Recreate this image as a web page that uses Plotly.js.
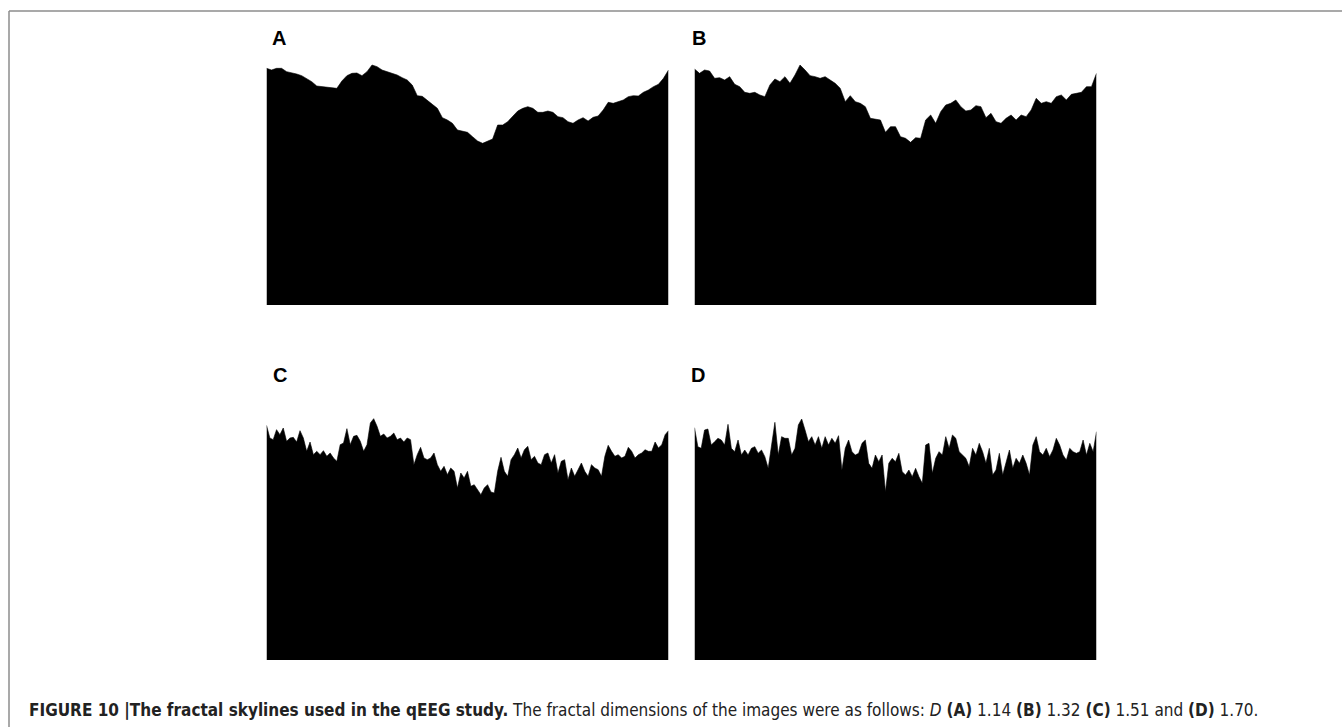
<!DOCTYPE html>
<html>
<head>
<meta charset="utf-8">
<script src="https://cdn.plot.ly/plotly-3.0.1.min.js"></script>
<style>html,body{margin:0;padding:0;background:#fff;}#chart{width:1342px;height:727px;}</style>
</head>
<body>
<div id="chart"></div>
<script>
// Skyline heights (arbitrary units, 0 = bottom of each image)
var panelLabels = ["A", "B", "C", "D"];
var fractalDims = ["1.14", "1.32", "1.51", "1.70"];

var skylineA = [
  710,705,710,710,700,697,693,688,678,670,
  657,655,653,651,650,672,688,695,696,688,
  700,720,715,705,700,695,690,682,675,660,
  628,626,615,602,590,562,555,545,525,522,
  518,505,492,485,492,498,540,540,550,567,
  582,590,595,590,578,578,582,578,565,562,
  550,545,555,562,552,563,567,585,608,605,
  610,615,625,628,627,638,645,655,662,680,
  705
];
var skylineB = [
  708,695,705,702,680,682,675,685,662,655,
  638,635,638,630,625,660,678,670,685,665,
  690,720,705,688,685,680,685,675,665,650,
  610,628,610,605,595,560,558,555,518,535,
  535,505,500,488,502,500,555,570,545,580,
  600,605,615,595,582,585,598,595,562,575,
  550,545,560,570,555,570,565,585,620,605,
  610,605,625,630,615,632,635,638,655,655,
  695
];
var skylineC = [
  704,666,661,691,676,696,656,666,668,654,
  688,666,626,654,616,626,616,628,611,621,
  606,596,646,651,694,646,671,674,656,626,
  646,711,724,701,671,678,666,671,681,661,
  666,654,666,661,586,616,638,606,601,606,
  621,586,566,581,556,576,566,516,561,546,
  566,521,526,511,496,516,526,504,501,566,
  608,566,551,601,616,636,606,631,641,601,
  611,591,586,616,621,591,616,561,596,601,
  541,576,551,571,591,566,551,586,576,571,
  551,611,644,626,611,616,606,611,638,626,
  606,616,621,631,626,626,654,636,646,676,
  688
];
var skylineD = [
  697,640,635,690,693,645,655,665,660,645,
  707,635,625,660,615,630,615,635,640,620,
  630,610,575,645,713,615,670,665,665,615,
  635,705,723,690,655,670,645,670,635,670,
  645,665,650,673,570,635,660,625,615,620,
  650,660,590,575,615,595,615,505,590,605,
  595,620,565,555,570,550,575,550,530,645,
  650,560,605,625,615,670,635,675,665,625,
  615,605,580,635,615,650,625,590,635,555,
  570,620,555,590,630,575,605,590,615,590,
  555,645,670,625,615,635,610,630,665,645,
  615,600,635,625,620,625,660,615,650,625,
  685
];

var W = 1342, H = 727;
function px(x){ return x / W; }
function py(y){ return 1 - y / H; }

var series = [skylineA, skylineB, skylineC, skylineD];
var steps = [5, 5, 10/3, 10/3];
var x0 = 2/3;
var colLeft = [266.5, 694.5];
var rowBottom = [305, 660];
var panelW = 402, panelH = 250;

var traces = [];
var layout = {
  width: W, height: H, autosize: false,
  margin: {l: 0, r: 0, t: 0, b: 0},
  paper_bgcolor: "#ffffff", plot_bgcolor: "rgba(0,0,0,0)",
  showlegend: false,
  annotations: [], shapes: []
};

for (var i = 0; i < 4; i++) {
  var col = i % 2, row = Math.floor(i / 2);
  var ax = i === 0 ? "" : String(i + 1);
  traces.push({
    type: "scatter", mode: "lines",
    x0: x0, dx: steps[i], y: series[i],
    xaxis: "x" + ax, yaxis: "y" + ax,
    fill: "tozeroy", fillcolor: "#000000",
    line: {color: "#000000", width: 0.6},
    hoverinfo: "skip"
  });
  var l = colLeft[col], b = rowBottom[row];
  layout["xaxis" + ax] = {
    domain: [px(l), px(l + panelW)],
    range: [x0, x0 + 400], visible: false, fixedrange: true,
    anchor: "y" + ax
  };
  layout["yaxis" + ax] = {
    domain: [py(b), py(b - panelH)],
    range: [0, 750], visible: false, fixedrange: true,
    anchor: "x" + ax
  };
}

var labelPos = [[270, 38], [690, 38], [271, 375], [689, 375]];
for (var j = 0; j < 4; j++) {
  layout.annotations.push({
    xref: "paper", yref: "paper",
    x: px(labelPos[j][0]), y: py(labelPos[j][1]),
    xanchor: "left", yanchor: "middle", showarrow: false,
    text: "<b>" + panelLabels[j] + "</b>",
    font: {family: "Liberation Sans, Arial, sans-serif", size: 20, color: "#000"}
  });
}

var caption = "<b>FIGURE 10 |The fractal skylines used in the qEEG study.</b> " +
  "The fractal dimensions of the images were as follows: <i>D</i> " +
  "<b>(" + panelLabels[0] + ")</b> " + fractalDims[0] + " " +
  "<b>(" + panelLabels[1] + ")</b> " + fractalDims[1] + " " +
  "<b>(" + panelLabels[2] + ")</b> " + fractalDims[2] + " and " +
  "<b>(" + panelLabels[3] + ")</b> " + fractalDims[3] + ".";
layout.annotations.push({
  xref: "paper", yref: "paper",
  x: px(27), y: py(710), xanchor: "left", yanchor: "middle",
  showarrow: false, text: caption,
  font: {family: "DejaVu Sans Condensed, DejaVu Sans, sans-serif", size: 17, color: "#222"}
});

layout.shapes.push({
  type: "line", xref: "paper", yref: "paper",
  x0: px(9), x1: 1, y0: py(11), y1: py(11),
  line: {color: "#8c8c8c", width: 1.5}
});
layout.shapes.push({
  type: "line", xref: "paper", yref: "paper",
  x0: px(9), x1: px(9), y0: 0, y1: py(11),
  line: {color: "#8c8c8c", width: 1.5}
});

Plotly.newPlot("chart", traces, layout, {staticPlot: true, displayModeBar: false});
</script>
</body>
</html>
